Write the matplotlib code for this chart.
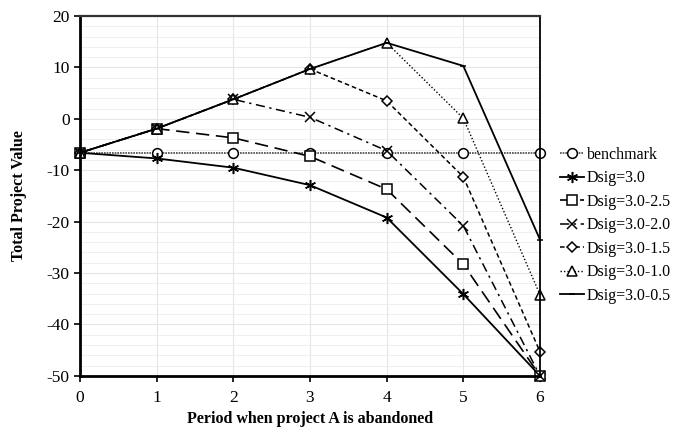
import matplotlib.pyplot as plt
import numpy as np

plt.rcParams['font.family'] = ['Liberation Serif', 'DejaVu Serif']
plt.rcParams['axes.unicode_minus'] = False

periods = [0, 1, 2, 3, 4, 5, 6]
benchmark = [-6.6, -6.6, -6.6, -6.6, -6.6, -6.6, -6.6]
d30 = [-6.6, -7.7, -9.5, -12.9, -19.2, -34.1, -50.0]
d25 = [-6.6, -1.9, -3.7, -7.3, -13.7, -28.3, -50.0]
d20 = [-6.6, -1.9, 3.8, 0.3, -6.2, -20.8, -50.0]
d15 = [-6.6, -1.9, 3.8, 9.7, 3.5, -11.3, -45.3]
d10 = [-6.6, -1.9, 3.8, 9.7, 14.8, 0.1, -34.2]
d05 = [-6.6, -1.9, 3.8, 9.7, 14.8, 10.3, -23.5]

fig = plt.figure(figsize=(6.75, 4.34), dpi=100)
ax = fig.add_axes([0.1185, 0.134, 0.6815, 0.829])

mk = dict(markerfacecolor='white', markeredgecolor='black', markeredgewidth=1.1,
          clip_on=False)

ax.plot(periods, benchmark, color='#444444', linestyle=(0, (1, 0.6)), lw=1.2,
        marker='o', markersize=7, label='benchmark', **mk)
ax.plot(periods, d30, color='black', linestyle='-', lw=1.3,
        marker=(6, 2, 0), markersize=8, label='Dsig=3.0', **mk)
ax.plot(periods, d25, color='black', linestyle=(0, (8, 4)), lw=1.2,
        marker='s', markersize=7, label='Dsig=3.0-2.5', **mk)
ax.plot(periods, d20, color='black', linestyle=(0, (6, 3, 1.5, 3)), lw=1.1,
        marker='x', markersize=7, label='Dsig=3.0-2.0', **mk)
ax.plot(periods, d15, color='black', linestyle=(0, (3, 2)), lw=1.1,
        marker='D', markersize=5.5, label='Dsig=3.0-1.5', **mk)
ax.plot(periods, d10, color='black', linestyle=(0, (1, 1.5)), lw=1.0,
        marker='^', markersize=7, label='Dsig=3.0-1.0', **mk)
ax.plot(periods, d05, color='black', linestyle='-', lw=1.3,
        marker='_', markersize=4, label='Dsig=3.0-0.5', **mk)

ax.set_xlim(0, 6)
ax.set_ylim(-50, 20)
ax.set_xticks(np.arange(0, 7, 1))
ax.set_yticks(np.arange(-50, 21, 10))
ax.set_yticks(np.arange(-50, 21, 2), minor=True)
ax.grid(True, which='major', color='#e6e6e6', lw=0.8)
ax.grid(True, which='minor', axis='y', color='#ececec', lw=0.6)
ax.set_axisbelow(True)
ax.tick_params(axis='both', which='major', labelsize=12.5, direction='out',
               length=4, width=1.2, colors='black')
ax.tick_params(axis='y', which='minor', length=0)
ax.tick_params(axis='x', pad=6)

for side in ['left', 'bottom']:
    ax.spines[side].set_linewidth(2)
ax.spines['top'].set_linewidth(1.6)
ax.spines['top'].set_color('#333333')
ax.spines['right'].set_linewidth(1.3)

ax.set_xlabel('Period when project A is abandoned', fontsize=11.5, fontweight='bold', labelpad=4)
ax.set_ylabel('Total Project Value', fontsize=11.5, fontweight='bold', labelpad=14)

leg = fig.legend(loc='upper left', bbox_to_anchor=(0.83, 0.662), frameon=False,
                 fontsize=11.5, handlelength=1.5, handletextpad=0.15, labelspacing=0.47,
                 borderaxespad=0, borderpad=0)

plt.savefig('out.png', dpi=100)
